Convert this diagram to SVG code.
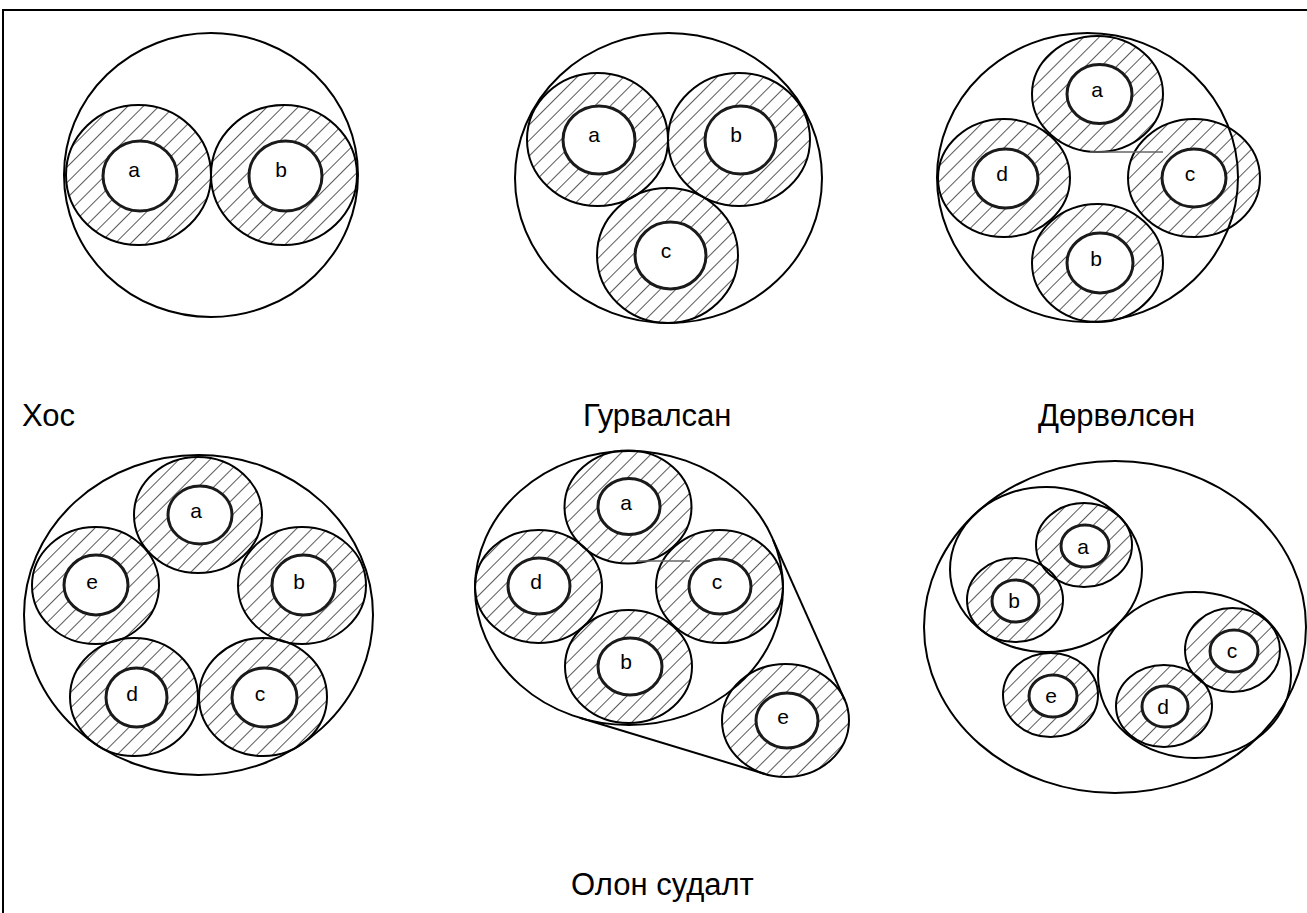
<svg xmlns="http://www.w3.org/2000/svg" width="1307" height="913" viewBox="0 0 1307 913">
<defs>
<pattern id="hatch" patternUnits="userSpaceOnUse" width="11" height="11" patternTransform="rotate(45)">
<line x1="0" y1="-1" x2="0" y2="12" stroke="#000" stroke-width="1.3"/>
</pattern>
</defs>
<style>
.outer{fill:none;stroke:#000;stroke-width:2}
.cab{fill:url(#hatch);stroke:#000;stroke-width:2}
.core{fill:#fff;stroke:#1a1a1a;stroke-width:3}
.lbl{font-family:"Liberation Sans",Arial,sans-serif;font-size:21px;fill:#000;text-anchor:middle}
.title{font-family:"Liberation Sans",Arial,sans-serif;font-size:31px;fill:#000}
.thin{fill:none;stroke:#000;stroke-width:2}
.gray{fill:none;stroke:#666;stroke-width:1.5}
</style>
<rect width="1307" height="913" fill="#fff"/>
<path d="M3,913 V10 H1307" fill="none" stroke="#000" stroke-width="2"/>

<!-- Panel 1: Хос -->
<g id="p1">
<ellipse class="outer" cx="211" cy="175" rx="147" ry="142"/>
<g id="p1-a"><ellipse class="cab" cx="138.5" cy="175" rx="72.5" ry="70"/><ellipse class="core" cx="140" cy="176" rx="37" ry="35"/><text class="lbl" x="134" y="177">a</text></g>
<g id="p1-b"><ellipse class="cab" cx="284" cy="175" rx="73" ry="70"/><ellipse class="core" cx="285.5" cy="176" rx="36.5" ry="35"/><text class="lbl" x="281" y="177">b</text></g>
</g>

<!-- Panel 2: Гурвалсан -->
<g id="p2">
<ellipse class="outer" cx="668.5" cy="178" rx="153.5" ry="145"/>
<g id="p2-a"><ellipse class="cab" cx="597.5" cy="139.5" rx="70.5" ry="66.5"/><ellipse class="core" cx="599" cy="140" rx="36" ry="34"/><text class="lbl" x="594" y="142">a</text></g>
<g id="p2-b"><ellipse class="cab" cx="739" cy="139.5" rx="71" ry="66.5"/><ellipse class="core" cx="740.5" cy="140" rx="35.5" ry="34"/><text class="lbl" x="736" y="142">b</text></g>
<g id="p2-c"><ellipse class="cab" cx="667.5" cy="255.5" rx="70.5" ry="67.5"/><ellipse class="core" cx="670.5" cy="255.5" rx="35.5" ry="33.5"/><text class="lbl" x="666" y="258">c</text></g>
</g>

<!-- Panel 3: Дөрвөлсөн -->
<g id="p3">
<ellipse class="outer" cx="1087.5" cy="177.5" rx="150.5" ry="144.5"/>
<g id="p3-a"><ellipse class="cab" cx="1097.5" cy="94" rx="65.5" ry="58"/><ellipse class="core" cx="1099.5" cy="94" rx="32.5" ry="29.5"/><text class="lbl" x="1097" y="97">a</text></g>
<g id="p3-d"><ellipse class="cab" cx="1004" cy="178" rx="66" ry="59"/><ellipse class="core" cx="1005.5" cy="178.5" rx="32.5" ry="29.5"/><text class="lbl" x="1002" y="181">d</text></g>
<g id="p3-c"><ellipse class="cab" cx="1194" cy="178" rx="66" ry="59"/><ellipse class="core" cx="1194" cy="178" rx="32" ry="29"/><text class="lbl" x="1190" y="181">c</text></g>
<g id="p3-b"><ellipse class="cab" cx="1097.5" cy="263" rx="65.5" ry="59"/><ellipse class="core" cx="1100" cy="263" rx="33" ry="30"/><text class="lbl" x="1096" y="266">b</text></g>
<line class="gray" x1="1090" y1="152" x2="1163" y2="152"/>
</g>

<!-- Panel 4 -->
<g id="p4">
<ellipse class="outer" cx="198.5" cy="615" rx="174.5" ry="160"/>
<g id="p4-a"><ellipse class="cab" cx="198" cy="515" rx="64" ry="58"/><ellipse class="core" cx="200" cy="515" rx="32" ry="29"/><text class="lbl" x="196" y="518">a</text></g>
<g id="p4-e"><ellipse class="cab" cx="95.5" cy="585.5" rx="63.5" ry="58.5"/><ellipse class="core" cx="96" cy="585" rx="32" ry="30"/><text class="lbl" x="92" y="589">e</text></g>
<g id="p4-b"><ellipse class="cab" cx="302" cy="585.5" rx="64" ry="58.5"/><ellipse class="core" cx="303.5" cy="585" rx="31.5" ry="30"/><text class="lbl" x="299" y="589">b</text></g>
<g id="p4-d"><ellipse class="cab" cx="134" cy="697" rx="64" ry="59"/><ellipse class="core" cx="136.5" cy="697.5" rx="30.5" ry="29.5"/><text class="lbl" x="132" y="701">d</text></g>
<g id="p4-c"><ellipse class="cab" cx="263" cy="697" rx="64" ry="59"/><ellipse class="core" cx="264.5" cy="697.5" rx="32.5" ry="29.5"/><text class="lbl" x="260" y="701">c</text></g>
</g>

<!-- Panel 5 -->
<g id="p5">
<ellipse class="outer" cx="629" cy="588" rx="154" ry="137"/>
<line class="thin" x1="773.3" y1="540.1" x2="845" y2="700.7"/>
<line class="thin" x1="579.6" y1="717.8" x2="765.1" y2="774"/>
<g id="p5-a"><ellipse class="cab" cx="628" cy="507" rx="63.5" ry="56.5"/><ellipse class="core" cx="629" cy="506.5" rx="31" ry="28"/><text class="lbl" x="626" y="510">a</text></g>
<g id="p5-d"><ellipse class="cab" cx="538.5" cy="586.5" rx="63.5" ry="56.5"/><ellipse class="core" cx="539" cy="586" rx="31" ry="28"/><text class="lbl" x="536" y="589">d</text></g>
<g id="p5-c"><ellipse class="cab" cx="719.5" cy="586.5" rx="63.5" ry="56.5"/><ellipse class="core" cx="720" cy="586.5" rx="31" ry="27.5"/><text class="lbl" x="717" y="589">c</text></g>
<g id="p5-b"><ellipse class="cab" cx="628.5" cy="666.5" rx="63.5" ry="56.5"/><ellipse class="core" cx="630" cy="666.5" rx="32" ry="28.5"/><text class="lbl" x="626" y="669">b</text></g>
<g id="p5-e"><ellipse class="cab" cx="785.5" cy="720.5" rx="63.5" ry="56.5"/><ellipse class="core" cx="787" cy="720.5" rx="31" ry="27.5"/><text class="lbl" x="783" y="724">e</text></g>
<line class="gray" x1="637" y1="561" x2="690" y2="561"/>
</g>

<!-- Panel 6 -->
<g id="p6">
<ellipse class="outer" cx="1115" cy="627" rx="191" ry="166"/>
<ellipse class="outer" cx="1046" cy="569.5" rx="96" ry="82.5"/>
<ellipse class="outer" cx="1194.5" cy="675" rx="96.5" ry="83"/>
<g id="p6-a"><ellipse class="cab" cx="1084" cy="545" rx="48" ry="42"/><ellipse class="core" cx="1085" cy="546" rx="24" ry="21"/><text class="lbl" x="1083" y="554">a</text></g>
<g id="p6-b"><ellipse class="cab" cx="1015" cy="600" rx="48" ry="42"/><ellipse class="core" cx="1015.5" cy="601" rx="23.5" ry="21"/><text class="lbl" x="1014" y="608">b</text></g>
<g id="p6-c"><ellipse class="cab" cx="1232.5" cy="650" rx="47.5" ry="42"/><ellipse class="core" cx="1234" cy="651" rx="24" ry="21"/><text class="lbl" x="1232" y="658">c</text></g>
<g id="p6-d"><ellipse class="cab" cx="1164" cy="706" rx="48" ry="41"/><ellipse class="core" cx="1165" cy="706.5" rx="23" ry="20.5"/><text class="lbl" x="1163" y="714">d</text></g>
<g id="p6-e"><ellipse class="cab" cx="1050.5" cy="695" rx="47.5" ry="42"/><ellipse class="core" cx="1053" cy="696" rx="24" ry="21"/><text class="lbl" x="1051" y="703">e</text></g>
</g>

<g id="connectors"></g>

<g id="labels">
<text class="title" x="22" y="426">Хос</text>
<text class="title" x="583" y="426">Гурвалсан</text>
<text class="title" x="1038" y="426">Дөрвөлсөн</text>
<text class="title" x="571" y="895">Олон судалт</text>
</g>
</svg>
